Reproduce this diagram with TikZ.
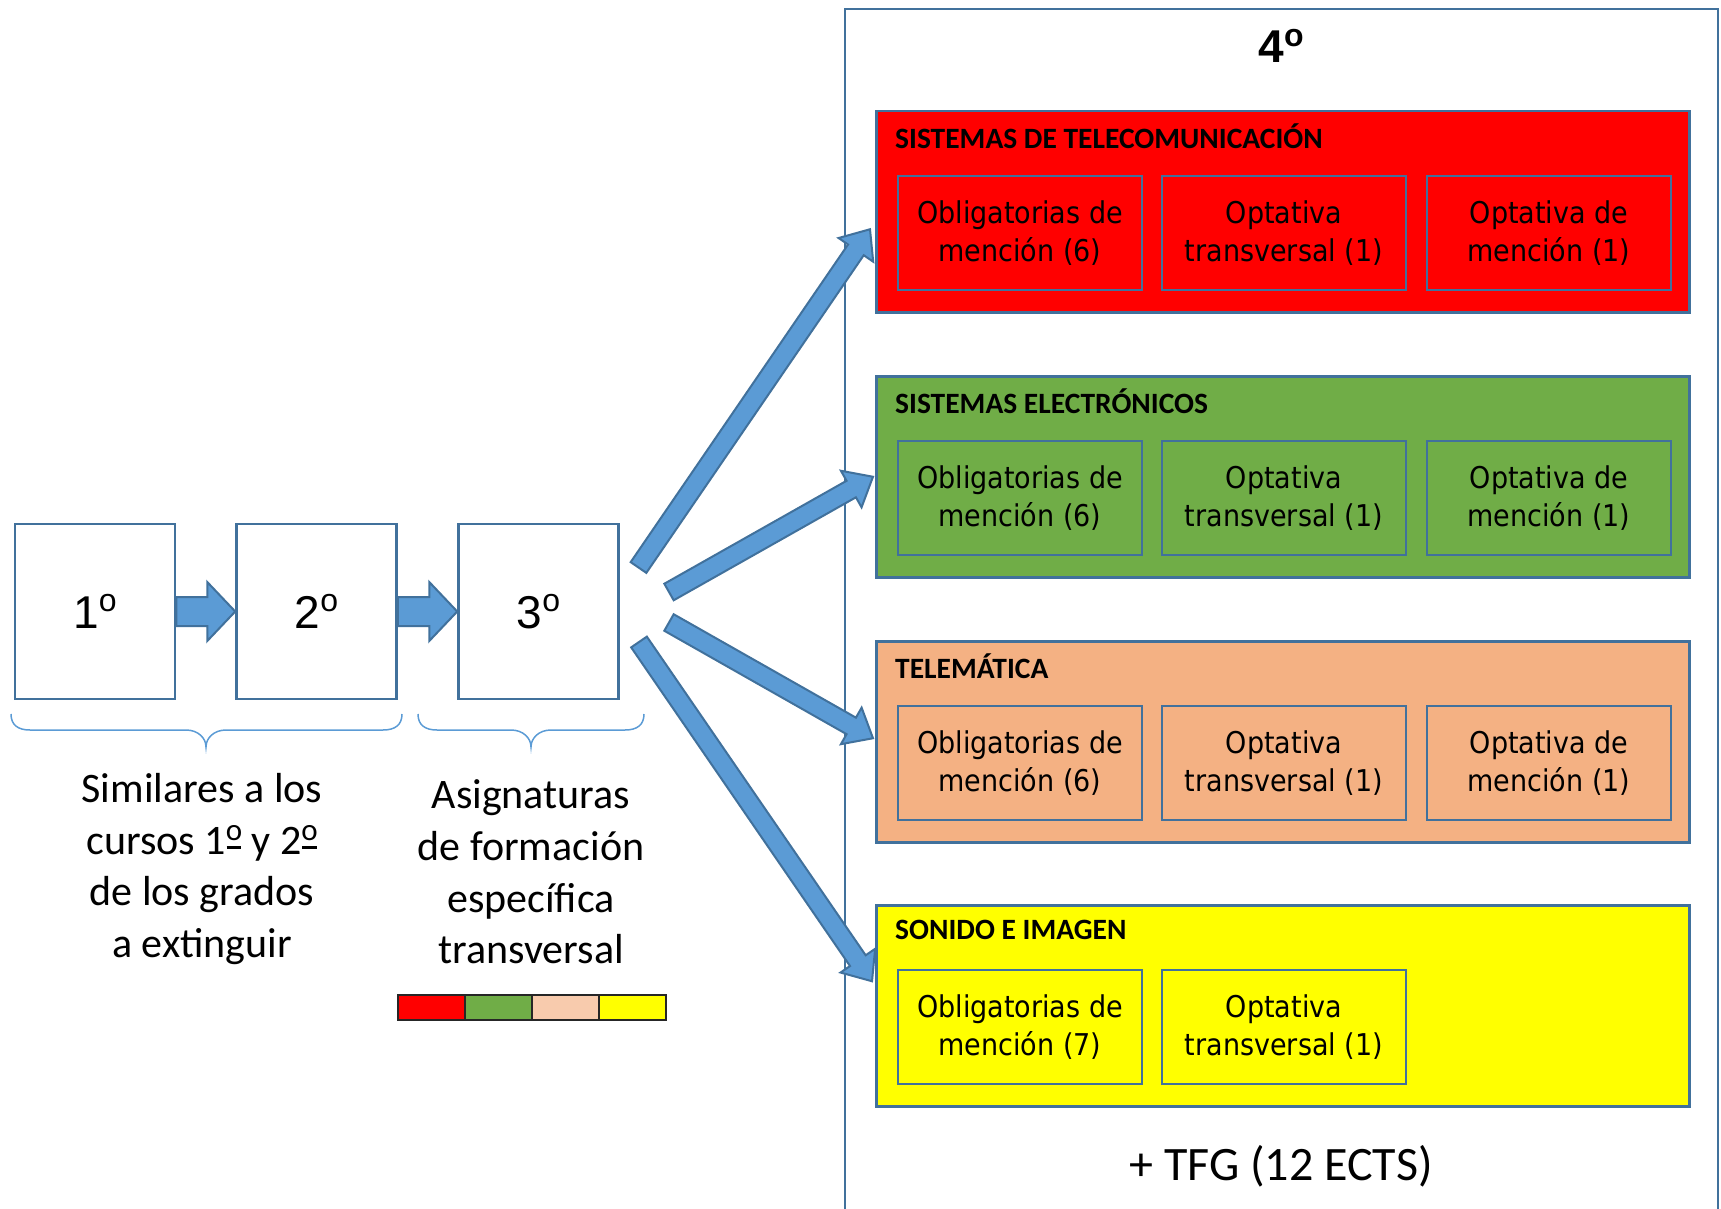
\documentclass[tikz,border=0pt]{standalone}
\usepackage{fontspec}
\setmainfont{Carlito}
\newfontfamily\arialf{Liberation Sans}
\newfontfamily\tahomaf[FakeStretch=0.9]{DejaVu Sans}
\usetikzlibrary{calc}
\definecolor{bordblue}{HTML}{41719C}
\definecolor{arrfill}{HTML}{5B9BD5}
\definecolor{bracec}{HTML}{5B9BD5}
\definecolor{mred}{HTML}{FF0000}
\definecolor{mgreen}{HTML}{70AD47}
\definecolor{mpeach}{HTML}{F4B183}
\definecolor{lpeach}{HTML}{F8CBAD}
\definecolor{myellow}{HTML}{FFFF00}
% ring-style ordinal (year boxes) and underlined ordinal (Calibri style)
\newcommand\ringo{\raisebox{16.5pt}{\fontsize{32}{32}\selectfont o}}
\newcommand\ordu{\raisebox{13.5pt}{\fontsize{31}{31}\selectfont\rlap{\hspace{0.03em}\rule[-8pt]{0.47em}{2.5pt}}o}}
% block arrow: #1 tail, #2 tip, #3 half shaft, #4 half head, #5 head length
\newcommand\blockarrow[5]{%
  \coordinate (ba-h) at ($(#2)!#5pt!(#1)$);
  \draw[blockarr] ($(#1)!#3pt!90:(#2)$) -- ($(ba-h)!#3pt!-90:(#1)$) -- ($(ba-h)!#4pt!-90:(#1)$) -- (#2) -- ($(ba-h)!#4pt!90:(#1)$) -- ($(ba-h)!#3pt!90:(#1)$) -- ($(#1)!#3pt!-90:(#2)$) -- cycle;
}
\begin{document}
\begin{tikzpicture}[x=1pt,y=-1pt,
  yearbox/.style={draw=bordblue, line width=2.5pt, fill=white, minimum width=160, minimum height=175, inner sep=0pt, font=\arialf\fontsize{46}{55}\selectfont},
  groupbox/.style={draw=bordblue, line width=2.5pt, minimum width=813, minimum height=201, anchor=north west, inner sep=0pt},
  gtitle/.style={anchor=west, inner sep=0pt, font=\bfseries\fontsize{29.5}{35}\selectfont},
  subbox/.style={draw=bordblue, line width=2.5pt, minimum width=244, minimum height=114, inner sep=0pt, align=center, font=\tahomaf\fontsize{30}{38.4}\selectfont},
  lefttext/.style={align=center, inner sep=0pt, font=\fontsize{42}{51.6}\selectfont},
  cbar/.style={draw=black!85, line width=2pt, minimum width=67, minimum height=25, inner sep=0pt},
  blockarr/.style={draw=bordblue, fill=arrfill, line width=2pt, line join=miter},
  brace/.style={draw=bracec, line width=1.5pt},
]
\useasboundingbox (0,0) rectangle (1721,1209);

% big 4th-year frame
\draw[bordblue, line width=2pt] (845,1212) -- (845,9) -- (1718,9) -- (1718,1212);
\node[font=\arialf\bfseries\fontsize{46}{55}\selectfont] (c4) at (1281,46) {4\ringo};
\node[font=\fontsize{48}{57}\selectfont] (tfg) at (1281,1166) {+ TFG (12 ECTS)};

% year boxes
\node[yearbox] (y1) at (95,611.5) {1\ringo};
\node[yearbox] (y2) at (316.5,611.5) {2\ringo};
\node[yearbox] (y3) at (538.5,611.5) {3\ringo};
\blockarrow{y1.east}{y2.west}{14.5}{29.5}{28}
\blockarrow{y2.east}{y3.west}{14.5}{29.5}{28}

% groups
\node[groupbox, fill=mred] (red) at (875,110) {};
\node[gtitle] (redt) at (895,136) {SISTEMAS DE TELECOMUNICACIÓN};
\node[subbox] (red1) at (1020,233) {Obligatorias de\\mención (6)};
\node[subbox] (red2) at (1284,233) {Optativa\\transversal (1)};
\node[subbox] (red3) at (1549,233) {Optativa de\\mención (1)};

\node[groupbox, fill=mgreen] (green) at (875,375) {};
\node[gtitle] (greent) at (895,401) {SISTEMAS ELECTRÓNICOS};
\node[subbox] (green1) at (1020,498) {Obligatorias de\\mención (6)};
\node[subbox] (green2) at (1284,498) {Optativa\\transversal (1)};
\node[subbox] (green3) at (1549,498) {Optativa de\\mención (1)};

\node[groupbox, fill=mpeach] (peach) at (875,640) {};
\node[gtitle] (peacht) at (895,666) {TELEMÁTICA};
\node[subbox] (peach1) at (1020,763) {Obligatorias de\\mención (6)};
\node[subbox] (peach2) at (1284,763) {Optativa\\transversal (1)};
\node[subbox] (peach3) at (1549,763) {Optativa de\\mención (1)};

\node[groupbox, fill=myellow] (yellow) at (875,904) {};
\node[gtitle] (yellowt) at (895,930) {SONIDO E IMAGEN};
\node[subbox] (yellow1) at (1020,1027) {Obligatorias de\\mención (7)};
\node[subbox] (yellow2) at (1284,1027) {Optativa\\transversal (1)};

% diagonal arrows
\coordinate (tA) at (638.5,567.5);
\coordinate (tB) at (669,592);
\coordinate (tC) at (669,622.5);
\coordinate (tD) at (639,642);
\coordinate (hA) at ($(red.west)+(-5,17.5)$);
\coordinate (hB) at ($(green.west)+(-2,0)$);
\coordinate (hC) at ($(peach.west)+(-2,-3.5)$);
\coordinate (hD) at ($(yellow.west)+(-3,-24.5)$);
\blockarrow{tA}{hA}{9.5}{21}{25}
\blockarrow{tB}{hB}{9.5}{21}{25}
\blockarrow{tC}{hC}{9.5}{21}{25}
\blockarrow{tD}{hD}{9.5}{21}{25}

% braces
\draw[brace] (11,714) .. controls (11,725) and (18,730) .. (30,730) -- (186,730)
  .. controls (198,730) and (206,738) .. (206,747)
  .. controls (206,738) and (214,730) .. (226,730) -- (383,730)
  .. controls (395,730) and (402,725) .. (402,714);
\draw[brace] (418,714) .. controls (418,725) and (425,730) .. (437,730) -- (511,730)
  .. controls (523,730) and (531,738) .. (531,747)
  .. controls (531,738) and (539,730) .. (551,730) -- (625,730)
  .. controls (637,730) and (644,725) .. (644,714);

% texts under braces
\node[lefttext] (t12) at (202,869) {Similares a los\\cursos 1\ordu{} y 2\ordu\\de los grados\\a extinguir};
\node[lefttext] (t3) at (531,872) {Asignaturas\\de formación\\específica\\transversal};

% colour bar
\node[cbar, fill=mred] (cb1) at (431.5,1007.5) {};
\node[cbar, fill=mgreen] (cb2) at (498.5,1007.5) {};
\node[cbar, fill=lpeach] (cb3) at (565.5,1007.5) {};
\node[cbar, fill=myellow] (cb4) at (632.5,1007.5) {};
\end{tikzpicture}
\end{document}
